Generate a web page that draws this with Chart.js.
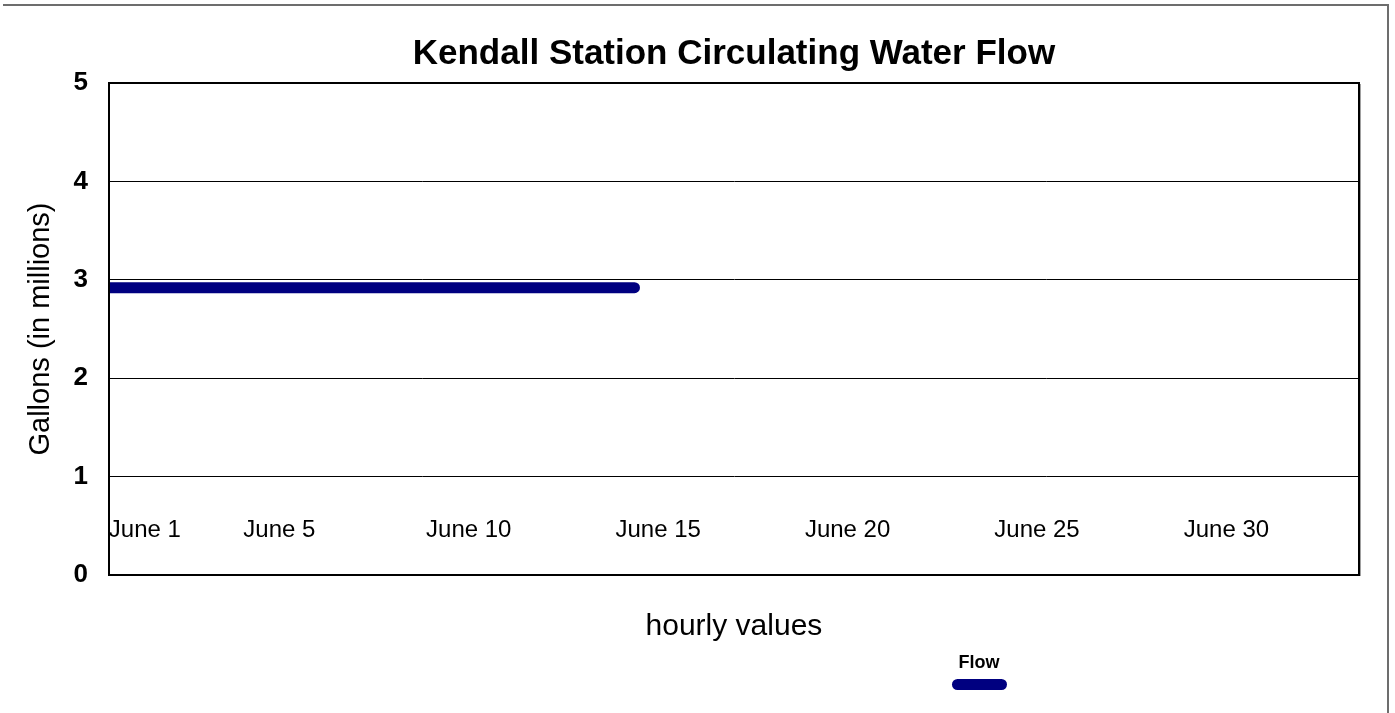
<!DOCTYPE html>
<html><head><meta charset="utf-8">
<script src="https://cdn.jsdelivr.net/npm/chart.js@4"></script>
<style>
html,body{margin:0;padding:0;background:#fff;}
#wrap{position:relative;width:1395px;height:713px;overflow:hidden;font-family:"Liberation Sans",Arial,sans-serif;background:#fff;}
canvas{position:absolute;left:0;top:0;}
#frame{position:absolute;left:3px;top:4px;width:1384px;height:760px;border-top:2px solid #6d6d6d;border-right:2px solid #6d6d6d;pointer-events:none;}
#legend{position:absolute;left:939px;top:651px;width:80px;text-align:center;}
#legend .lbl{font-weight:bold;font-size:18px;line-height:22px;color:#000;}
#legend .sw{width:55px;height:11px;border-radius:6px;background:#000080;margin:6px auto 0;}
</style></head><body>
<div id="wrap"><canvas id="c" width="1395" height="713"></canvas><div id="frame"></div><div id="legend"><div class="lbl" id="lgLbl"></div><div class="sw"></div></div></div>
<script>
// ---- data ----
const seriesName = 'Flow';
const flowHours = [0, 333];          // hours since June 1 00:00
const flowValues = [2.92, 2.92];     // gallons (millions)
const tickHours = [0, 108, 228, 348, 468, 588, 708, 792];
const tickLabels = ['June 1', 'June 5', 'June 10', 'June 15', 'June 20', 'June 25', 'June 30', ''];
const yTicks = [0, 1, 2, 3, 4, 5];
const xMax = 792;

const FF = '"Liberation Sans", Arial, sans-serif';
document.getElementById('lgLbl').textContent = seriesName;

const plotFrame = {
  id: 'plotFrame',
  afterDraw(chart) {
    const {ctx, chartArea: a} = chart;
    ctx.save();
    ctx.strokeStyle = '#a0a0a0';
    ctx.lineWidth = 1;
    ctx.beginPath();
    ctx.moveTo(Math.round(a.right) + 1.5, a.top + 1);
    ctx.lineTo(Math.round(a.right) + 1.5, a.bottom + 1);
    ctx.stroke();
    ctx.strokeStyle = '#000';
    ctx.lineWidth = 2;
    ctx.strokeRect(Math.round(a.left), Math.round(a.top), Math.round(a.right) - Math.round(a.left), Math.round(a.bottom) - Math.round(a.top));
    ctx.restore();
  }
};

new Chart(document.getElementById('c'), {
  type: 'line',
  data: {
    datasets: [{
      label: seriesName,
      data: flowHours.map((h, i) => ({x: h, y: flowValues[i]})),
      borderColor: '#000080',
      backgroundColor: '#000080',
      borderWidth: 11,
      borderCapStyle: 'round',
      pointRadius: 0,
      fill: false,
      clip: 0,
      xAxisID: 'x',
      yAxisID: 'y'
    }]
  },
  options: {
    responsive: false,
    animation: false,
    events: [],
    layout: {padding: {left: 0, right: 36, top: 0, bottom: 68}},
    plugins: {
      legend: {display: false},
      tooltip: {enabled: false},
      title: {
        display: true,
        text: 'Kendall Station Circulating Water Flow',
        fullSize: false,
        color: '#000',
        font: {family: FF, size: 35, weight: 'bold', lineHeight: 1.2},
        padding: {top: 33, bottom: 8}
      }
    },
    scales: {
      x: {
        type: 'linear', position: 'bottom', min: 0, max: xMax,
        grid: {display: false, drawTicks: false},
        border: {display: true, color: '#000', width: 2},
        ticks: {display: false},
        title: {display: true, text: 'hourly values', color: '#000', font: {family: FF, size: 30, lineHeight: 1.2}, padding: {top: 34, bottom: 0}}
      },
      x2: {
        type: 'linear', axis: 'x', position: {y: 0.6}, min: 0, max: xMax,
        grid: {display: false, drawTicks: false},
        border: {display: false},
        afterBuildTicks: s => { s.ticks = tickHours.map(v => ({value: v})); },
        ticks: {
          autoSkip: false, maxRotation: 0, minRotation: 0, align: 'inner', padding: 0,
          color: '#000', font: {family: FF, size: 24, lineHeight: 1.2},
          callback: (v, i) => tickLabels[i]
        }
      },
      y: {
        type: 'linear', position: 'left', min: 0, max: 5,
        afterBuildTicks: s => { s.ticks = yTicks.map(v => ({value: v})); },
        grid: {color: '#000', lineWidth: 1, drawTicks: false},
        border: {display: true, color: '#000', width: 2},
        ticks: {padding: 21, color: '#000', font: {family: FF, size: 26, weight: 'bold', lineHeight: 1.2}},
        title: {display: true, text: 'Gallons (in millions)', color: '#000', font: {family: FF, size: 29, lineHeight: 1.2}, padding: {top: 23.6, bottom: -6}}
      }
    }
  },
  plugins: [plotFrame]
});
</script>
</body></html>
